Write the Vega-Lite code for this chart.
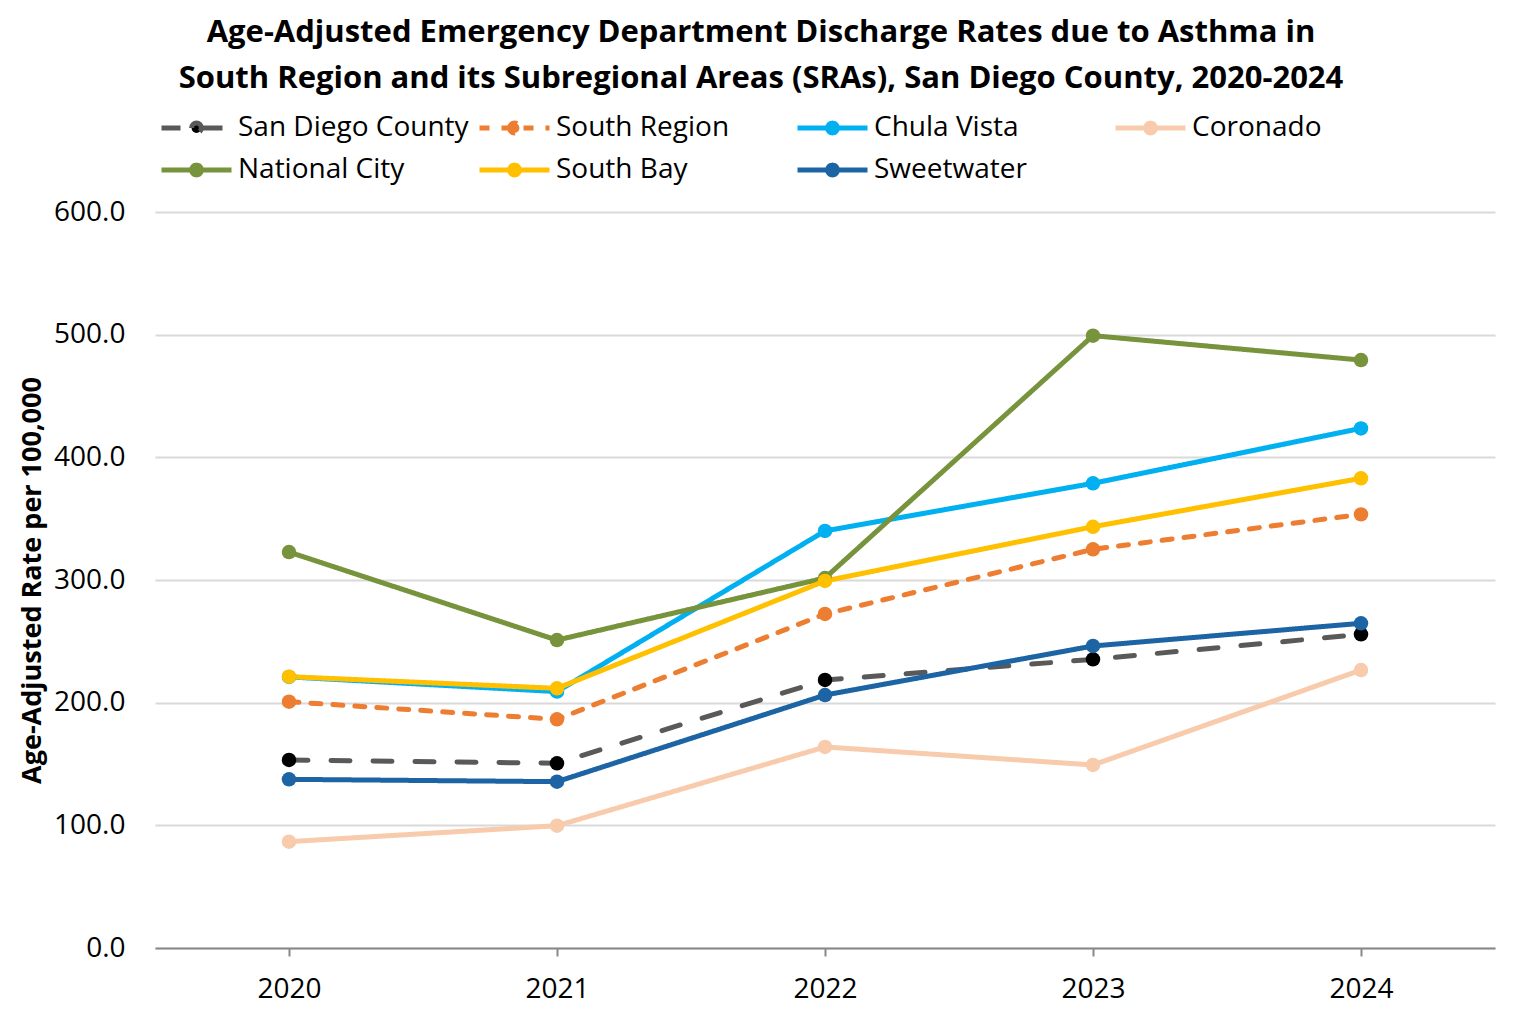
{
  "$schema": "https://vega.github.io/schema/vega-lite/v6.json",
  "width": 1340,
  "height": 736,
  "autosize": "none",
  "padding": {"left": 155, "top": 212, "right": 22, "bottom": 66},
  "background": "white",
  "title": {
    "text": ["Age-Adjusted Emergency Department Discharge Rates due to Asthma in", "South Region and its Subregional Areas (SRAs), San Diego County, 2020-2024"],
    "font": "Open Sans",
    "fontSize": 31,
    "fontWeight": "bold",
    "color": "#000000",
    "anchor": "middle",
    "frame": "group",
    "dx": -64,
    "lineHeight": 46,
    "offset": 14
  },
  "data": {
    "values": [
      {"series": "San Diego County", "year": "2020", "rate": 153.3},
      {"series": "San Diego County", "year": "2021", "rate": 150.6},
      {"series": "San Diego County", "year": "2022", "rate": 218.5},
      {"series": "San Diego County", "year": "2023", "rate": 235.3},
      {"series": "San Diego County", "year": "2024", "rate": 255.7},
      {"series": "South Region", "year": "2020", "rate": 200.8},
      {"series": "South Region", "year": "2021", "rate": 186.4},
      {"series": "South Region", "year": "2022", "rate": 272.3},
      {"series": "South Region", "year": "2023", "rate": 325.0},
      {"series": "South Region", "year": "2024", "rate": 353.5},
      {"series": "Chula Vista", "year": "2020", "rate": 221.0},
      {"series": "Chula Vista", "year": "2021", "rate": 209.0},
      {"series": "Chula Vista", "year": "2022", "rate": 340.0},
      {"series": "Chula Vista", "year": "2023", "rate": 378.8},
      {"series": "Chula Vista", "year": "2024", "rate": 423.6},
      {"series": "Coronado", "year": "2020", "rate": 86.7},
      {"series": "Coronado", "year": "2021", "rate": 99.7},
      {"series": "Coronado", "year": "2022", "rate": 163.9},
      {"series": "Coronado", "year": "2023", "rate": 149.2},
      {"series": "Coronado", "year": "2024", "rate": 226.6},
      {"series": "National City", "year": "2020", "rate": 322.8},
      {"series": "National City", "year": "2021", "rate": 251.0},
      {"series": "National City", "year": "2022", "rate": 301.6},
      {"series": "National City", "year": "2023", "rate": 499.2},
      {"series": "National City", "year": "2024", "rate": 479.3},
      {"series": "South Bay", "year": "2020", "rate": 221.2},
      {"series": "South Bay", "year": "2021", "rate": 211.7},
      {"series": "South Bay", "year": "2022", "rate": 299.2},
      {"series": "South Bay", "year": "2023", "rate": 343.4},
      {"series": "South Bay", "year": "2024", "rate": 382.9},
      {"series": "Sweetwater", "year": "2020", "rate": 137.5},
      {"series": "Sweetwater", "year": "2021", "rate": 135.6},
      {"series": "Sweetwater", "year": "2022", "rate": 206.2},
      {"series": "Sweetwater", "year": "2023", "rate": 246.2},
      {"series": "Sweetwater", "year": "2024", "rate": 264.7}
    ]
  },
  "encoding": {
    "x": {
      "field": "year",
      "type": "ordinal",
      "scale": {"type": "point", "padding": 0.5},
      "axis": {
        "title": null,
        "labelAngle": 0,
        "labelFont": "Open Sans",
        "labelFontSize": 28,
        "labelColor": "#000000",
        "labelPadding": 19,
        "domainColor": "#898989",
        "domainWidth": 2,
        "tickColor": "#898989",
        "tickWidth": 2,
        "tickSize": 8,
        "grid": false
      }
    },
    "y": {
      "field": "rate",
      "type": "quantitative",
      "scale": {"domain": [0, 600], "nice": false, "zero": true},
      "axis": {
        "title": "Age-Adjusted Rate per 100,000",
        "titleFont": "Open Sans",
        "titleFontSize": 27,
        "titleFontWeight": "bold",
        "titleColor": "#000000",
        "titlePadding": 7,
        "values": [0, 100, 200, 300, 400, 500, 600],
        "format": ".1f",
        "labelFont": "Open Sans",
        "labelFontSize": 28,
        "labelColor": "#000000",
        "labelPadding": 30,
        "domain": false,
        "ticks": false,
        "gridColor": "#d9d9d9",
        "gridWidth": 2
      }
    }
  },
  "layer": [
    {
      "mark": {"type": "line", "strokeWidth": 5, "strokeCap": "round", "strokeJoin": "round"},
      "encoding": {
        "stroke": {
          "field": "series",
          "type": "nominal",
          "scale": {
            "domain": ["San Diego County", "South Region", "Chula Vista", "Coronado", "National City", "South Bay", "Sweetwater"],
            "range": ["#595959", "#ED7D31", "#00B0F0", "#F8CBAD", "#77933C", "#FFC000", "#1C64A4"]
          },
          "legend": {
            "title": null,
            "orient": "none",
            "direction": "horizontal",
            "legendX": 4,
            "legendY": -103,
            "columns": 4,
            "gridAlign": "all",
            "columnPadding": 8,
            "rowPadding": 4,
            "clipHeight": 38,
            "padding": 0,
            "symbolType": "M-1,0L1,0M-0.14,0A0.14,0.14,0,1,1,0.14,0A0.14,0.14,0,1,1,-0.14,0Z",
            "symbolSize": 4900,
            "symbolStrokeWidth": 5,
            "labelOffset": 4,
            "labelFont": "Open Sans",
            "labelFontSize": 28,
            "labelColor": "#000000",
            "labelLimit": 400,
            "encode": {
              "symbols": {
                "update": {
                  "fill": {"scale": "fill", "field": "value"},
                  "stroke": {"scale": "stroke", "field": "value"},
                  "strokeDash": {"scale": "strokeDash", "field": "value"},
                  "opacity": {"value": 1}
                }
              }
            }
          }
        },
        "strokeDash": {
          "field": "series",
          "type": "nominal",
          "scale": {
            "domain": ["San Diego County", "South Region", "Chula Vista", "Coronado", "National City", "South Bay", "Sweetwater"],
            "range": [[19, 23], [10, 12], [1, 0], [1, 0], [1, 0], [1, 0], [1, 0]]
          },
          "legend": null
        }
      }
    },
    {
      "mark": {"type": "point", "filled": true, "size": 210, "opacity": 1, "strokeWidth": 0},
      "encoding": {
        "fill": {
          "field": "series",
          "type": "nominal",
          "scale": {
            "domain": ["San Diego County", "South Region", "Chula Vista", "Coronado", "National City", "South Bay", "Sweetwater"],
            "range": ["#000000", "#ED7D31", "#00B0F0", "#F8CBAD", "#77933C", "#FFC000", "#1C64A4"]
          },
          "legend": null
        }
      }
    }
  ],
  "config": {"view": {"stroke": null}}
}
